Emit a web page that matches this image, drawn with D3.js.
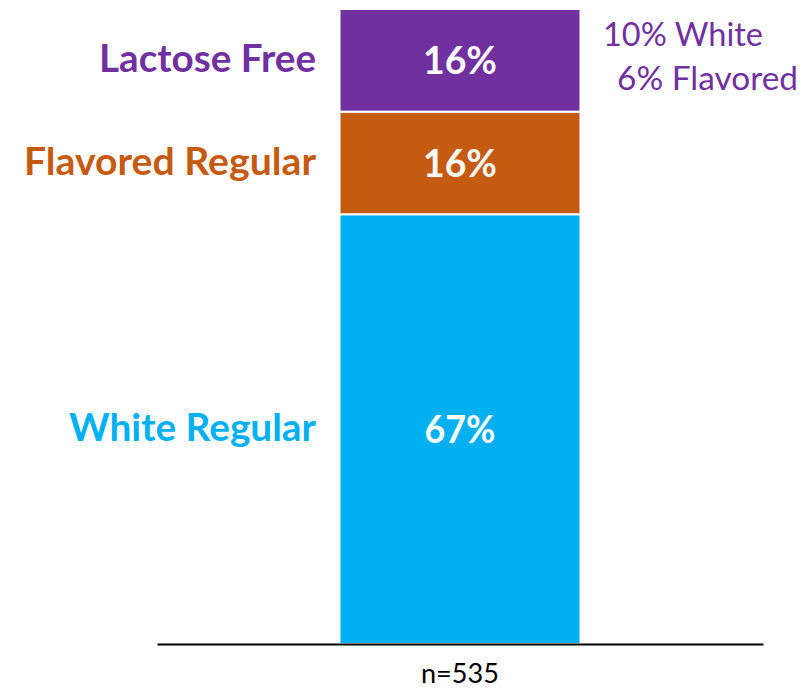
<!DOCTYPE html>
<html>
<head>
<meta charset="utf-8">
<script src="https://cdn.jsdelivr.net/npm/d3@7"></script>
<style>
  html, body { margin: 0; padding: 0; background: #fff; }
  svg { display: block; }
  text { font-family: Lato, "Open Sans", sans-serif; }
</style>
</head>
<body>
<svg id="chart" width="811" height="688"></svg>
<script>
// ---- Data ----
const categories = ["White Regular", "Flavored Regular", "Lactose Free"];
const values = [67, 16, 16];
const valueLabels = ["67%", "16%", "16%"];
const colors = ["#00B0F0", "#C55A11", "#7030A0"];
const barGroup = ["n=535"];
const annotationLines = ["10% White", "6% Flavored"];

// ---- Layout ----
const svg = d3.select("#chart");
const axisY = 644;
const plotTop = 9;
const total = d3.sum(values);

const x = d3.scaleBand().domain(barGroup).range([157, 763]).paddingInner(0.431).paddingOuter(0.431);
const y = d3.scaleLinear().domain([0, total]).range([axisY, plotTop]);

// stacked segments
let cum = 0;
const segs = values.map((v, i) => {
  const s = { cat: categories[i], v, label: valueLabels[i], color: colors[i], y0: cum, y1: cum + v };
  cum += v;
  return s;
});

const g = svg.append("g");

g.selectAll("rect.seg").data(segs).join("rect")
  .attr("class", "seg")
  .attr("x", x(barGroup[0]))
  .attr("width", x.bandwidth())
  .attr("y", d => y(d.y1))
  .attr("height", d => y(d.y0) - y(d.y1))
  .attr("fill", d => d.color)
  .attr("stroke", "#fff")
  .attr("stroke-width", 2);

// value labels inside bar
const labelWidths = { "67%": 71, "16%": 74 };
g.selectAll("text.val").data(segs).join("text")
  .attr("class", "val")
  .attr("x", x(barGroup[0]) + x.bandwidth() / 2)
  .attr("y", d => (y(d.y0) + y(d.y1)) / 2 + 14)
  .attr("text-anchor", "middle")
  .attr("fill", "#fff")
  .attr("font-weight", "bold")
  .attr("font-size", 38)
  .attr("textLength", d => labelWidths[d.label])
  .attr("lengthAdjust", "spacingAndGlyphs")
  .text(d => d.label);

// category labels on left
const catWidths = { "White Regular": 247, "Flavored Regular": 292, "Lactose Free": 217 };
g.selectAll("text.cat").data(segs).join("text")
  .attr("class", "cat")
  .attr("x", 316)
  .attr("y", d => (y(d.y0) + y(d.y1)) / 2 + 12)
  .attr("text-anchor", "end")
  .attr("fill", d => d.color)
  .attr("font-weight", "bold")
  .attr("font-size", 38)
  .attr("textLength", d => catWidths[d.cat])
  .attr("lengthAdjust", "spacingAndGlyphs")
  .text(d => d.cat);

// annotation on right of lactose free
const topSeg = segs[2];
const annX = [603, 617];
const annW = [160, 181];
const annY = [46, 90];
g.selectAll("text.ann").data(annotationLines).join("text")
  .attr("class", "ann")
  .attr("x", (d, i) => annX[i])
  .attr("y", (d, i) => annY[i])
  .attr("fill", topSeg.color)
  .attr("font-size", 32)
  .attr("textLength", (d, i) => annW[i])
  .attr("lengthAdjust", "spacingAndGlyphs")
  .text(d => d);

// x axis
const axis = d3.axisBottom(x).tickSize(0).tickSizeOuter(0);
const ag = svg.append("g").attr("transform", `translate(0,${axisY})`).call(axis);
ag.select(".domain").attr("stroke", "#000").attr("stroke-width", 2);
ag.selectAll(".tick text")
  .attr("dy", null)
  .attr("y", 39)
  .attr("fill", "#000")
  .attr("font-size", 26)
  .attr("font-family", "Lato, 'Open Sans', sans-serif")
  .attr("textLength", 78)
  .attr("lengthAdjust", "spacingAndGlyphs");
</script>
</body>
</html>
